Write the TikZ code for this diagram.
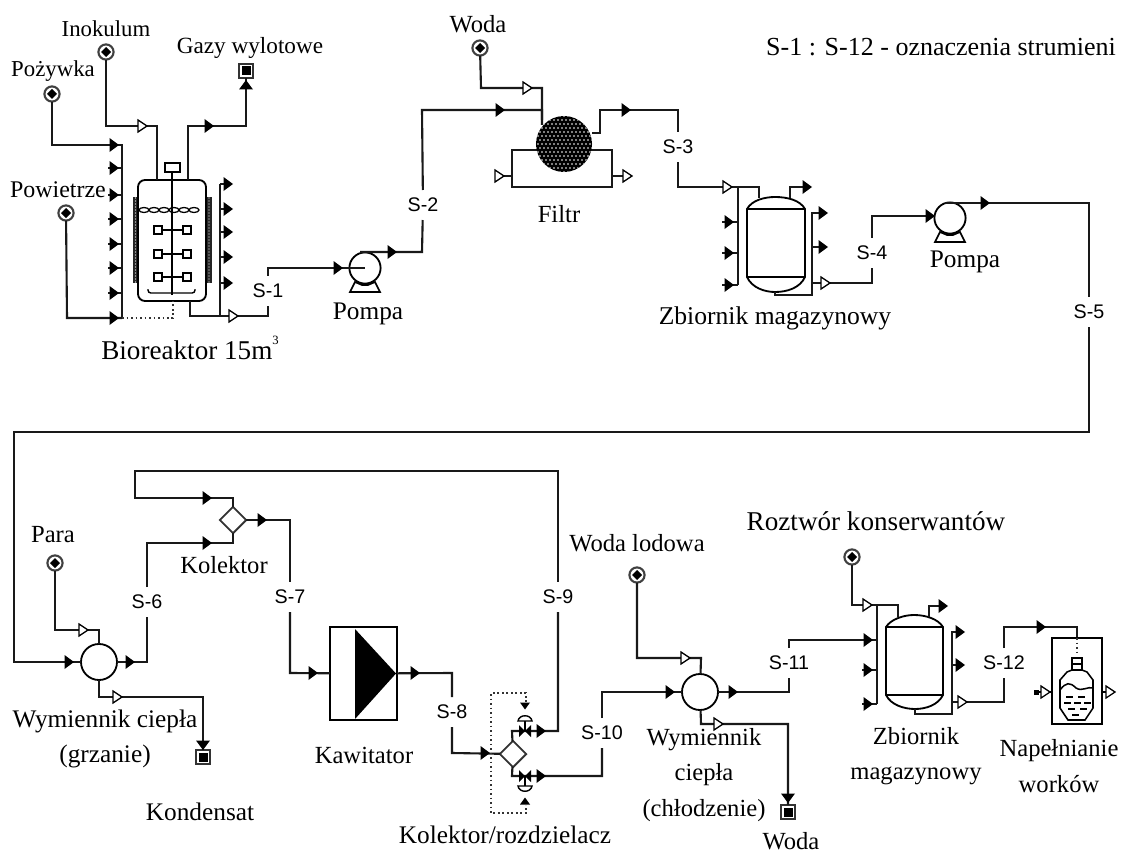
\documentclass[tikz,border=0pt]{standalone}
\usepackage{fontspec}
\setmainfont{Liberation Serif}
\setsansfont{Liberation Sans}
\usetikzlibrary{shapes.geometric}
\tikzset{
 every node/.style={outer sep=0pt,inner sep=0pt},
 pipe/.style={line width=1.5pt,line join=miter,black!90},
 dot/.style={line width=1.2pt,dotted,black!80},
 txt/.style={font=\fontsize{#1}{20}\selectfont,align=center},
 txt/.default=18,
 sl/.style={font=\sffamily\fontsize{14}{16}\selectfont,minimum height=0.75cm,minimum width=0.9cm},
 src/.style={circle,draw=black!75,line width=1.5pt,fill=white,minimum size=0.38cm,path picture={\fill[black] (path picture bounding box.center) ++(0,5)--++(5,-5)--++(-5,-5)--++(-5,5)--cycle;}},
 snk/.style={rectangle,draw=black!80,line width=1.5pt,fill=white,minimum size=0.36cm,path picture={\fill[black] (path picture bounding box.center) ++(-4.5,-4.5) rectangle ++(9,9);}},
 hx/.style={circle,draw,line width=1.3pt,fill=white,minimum size=0.9cm},
 mix/.style={diamond,draw=black!80,line width=1.3pt,fill=white,minimum size=0.66cm,aspect=1},
 pumpb/.style={circle,draw,line width=1.3pt,fill=white,minimum size=0.78cm},
 farr/.pic={\fill[black] (-4.5,-7)--(5,0)--(-4.5,7)--cycle;},
 sarr/.pic={\fill[black] (-3.5,-5)--(3.5,0)--(-3.5,5)--cycle;},
 oarr/.pic={\draw[line width=.9pt,fill=white] (-4,-6)--(5,0)--(-4,6)--cycle;},
}
\newcommand{\FA}[3][0]{\pic[rotate=#1] at (#2,#3) {farr};}
\newcommand{\OA}[3][0]{\pic[rotate=#1] at (#2,#3) {oarr};}
\begin{document}
\begin{tikzpicture}[x=0.025cm,y=-0.025cm]
\useasboundingbox (0,0) rectangle (1126,854);
% ---- text
\node[txt=16.2] (tInok) at (106,29) {Inokulum};
\node[txt=16.2] (tPoz) at (53,71) {Pożywka};
\node[txt=16.5] (tGaz) at (250,48) {Gazy wylotowe};
\node[txt=17] (tPow) at (58,190) {Powietrze};
\node[txt=19.3] (tBio) at (190,348) {Bioreaktor 15m\raisebox{1.2ex}{\fontsize{9}{9}\selectfont 3}};
\node[txt=18] (tPo1) at (368,314) {Pompa};
\node[txt=17.5] (tWod) at (478,24) {Woda};
\node[txt=17.5] (tFil) at (559,214) {Filtr};
\node[txt=18.5] (tLeg) at (941,47) {S-1 : S-12 - oznaczenia strumieni};
\node[txt=18.2] (tZb1) at (775,318) {Zbiornik magazynowy};
\node[txt=18] (tPo2) at (965,262) {Pompa};
\node[txt=17.5] (tPar) at (53,535) {Para};
\node[txt=17.5] (tKol) at (224,565) {Kolektor};
\node[txt=18] (tWy1) at (105,739) {Wymiennik ciepła\\[5pt](grzanie)};
\node[txt=18] (tKon) at (200,812) {Kondensat};
\node[txt=17.5] (tKaw) at (364,755) {Kawitator};
\node[txt=18] (tKr) at (505,835) {Kolektor/rozdzielacz};
\node[txt=17.5] (tWl) at (637,543) {Woda lodowa};
\node[txt=19.3] (tRo) at (876,521) {Roztwór konserwantów};
\node[txt=17.5] (tWy2) at (704,775) {Wymiennik\\[5pt]ciepła\\[5pt](chłodzenie)};
\node[txt=17.5] (tWo2) at (791,841) {Woda};
\node[txt=17.5] (tZb2) at (916,756) {Zbiornik\\[5pt]magazynowy};
\node[txt=17.5] (tNap) at (1059,766) {Napełnianie\\[5pt]worków};
% ---- stream labels
\node[sl] (S1) at (268,291) {S-1};
\node[sl] (S2) at (423,205) {S-2};
\node[sl] (S3) at (678,147) {S-3};
\node[sl] (S4) at (872,253) {S-4};
\node[sl] (S5) at (1089,312) {S-5};
\node[sl] (S6) at (147,602) {S-6};
\node[sl] (S7) at (290,597) {S-7};
\node[sl] (S8) at (452,712) {S-8};
\node[sl] (S9) at (558,597) {S-9};
\node[sl] (S10) at (602,733) {S-10};
\node[sl] (S11) at (789,663) {S-11};
\node[sl] (S12) at (1004,663) {S-12};
% ---- sources, sinks
\node[src] (inok) at (106,52) {};
\node[src] (poz) at (52,94) {};
\node[src] (pow) at (66,213) {};
\node[snk] (gaz) at (246,71) {};
\node[src] (wod) at (480,48) {};
\node[src] (par) at (55,563) {};
\node[snk] (kon) at (203,757) {};
\node[src] (wl) at (637,575) {};
\node[src] (rk) at (852,557) {};
\node[snk] (wo2) at (788,812) {};
% ---- equipment nodes
\node[pumpb] (p1) at (365,268) {};
\node[pumpb] (p2) at (950,218) {};
\node[hx] (hx1) at (99,662) {};
\node[hx] (hx2) at (700,692) {};
\node[mix] (k1) at (233,520) {};
\node[mix] (k2) at (513,754) {};
\node[draw,line width=1.3pt,fill=white,minimum width=1.675cm,minimum height=2.325cm] (kaw) at (363.5,673.5) {};
\fill[black] (355,629)--(396,673.5)--(355,719)--cycle;
% ---- coordinates on equipment
\coordinate (bioIn) at (157,180);
\coordinate (bioOut) at (188,180);
\coordinate (bioB) at (190,301);
\coordinate (busL) at (122,318);
\coordinate (busLt) at (122,145);
\coordinate (j1) at (233,316);
\coordinate (busR) at (220,316);
\coordinate (vT1) at (759,198);
\coordinate (vT1b) at (790,198);
\coordinate (vB1) at (775,292);
\coordinate (vT2) at (898,617);
\coordinate (vT2b) at (929,617);
\coordinate (vB2) at (915,709);
\coordinate (box2t) at (1077,638);
% ---- bioreactor
\fill[black!85] (133,197) rectangle (138,283);
\fill[black!85] (206,197) rectangle (212,283);
\foreach \y in {198,201,...,282}{\fill[white] (135.5,\y) circle (.6);\fill[white] (209,\y) circle (.6);}
\draw[line width=1.3pt,rounded corners=5pt] (138,180) rectangle (206,301);
\foreach \x in {144,154,...,200}{\draw[line width=.9pt] (\x,210) ellipse (5 and 2.5);}
\draw[line width=1.1pt] (172,172)--(172,295);
\draw[line width=1.1pt,fill=white] (165,163) rectangle (180,172);
\foreach \y in {230,254,277}{
 \draw[line width=1.1pt] (158,\y)--(187,\y);
 \draw[line width=1.1pt,fill=white] (154,\y-4) rectangle (162,\y+4);
 \draw[line width=1.1pt,fill=white] (183,\y-4) rectangle (191,\y+4);}
\draw[line width=1pt,rounded corners=2pt] (148,289)--(148,293)--(195,293)--(195,289);
% ---- connectors top row
\draw[pipe] (inok)--(106,126)--(157,126)--(bioIn);
\draw[pipe] (bioOut)--(188,126)--(246,126)--(gaz);
\draw[pipe] (poz)--(52,145)--(busLt)--(busL);
\draw[pipe] (pow)--(67,318)--(busL);
\draw[dot] (busL)--(173,318)--(173,301);
\foreach \y in {168,195,219,244,268,293}{\draw[pipe] (108,\y)--(122,\y);}
\foreach \y in {145,168,195,219,244,268,293,318}{\FA{114}{\y}}
\draw[pipe] (bioB)--(190,316)--(j1);
\draw[pipe] (busR)--(220,184);
\foreach \y in {184,209,232,257,283}{\draw[pipe] (220,\y)--(230,\y);\FA{228}{\y}}
\draw[pipe] (j1)--(268,316)--(S1);
\draw[pipe] (S1)--(268,268)--(365,268);
\draw[pipe] (360,252)--(422,252)--(S2);
\draw[pipe] (S2)--(422,110)--(542,110)--(542,125);
\draw[pipe] (wod)--(481,88)--(542,88)--(542,120);
\draw[pipe] (512,150) rectangle (612,187);
\node[circle,minimum size=1.4cm,fill=black] (fil) at (564,144) {};
\begin{scope}
\clip (564,144) circle (28);
\foreach \i in {0,...,14}{\foreach \j in {0,...,14}{
  \pgfmathsetmacro{\xx}{536+\i*4+2*mod(\j,2)}
  \pgfmathsetmacro{\yy}{116+\j*4}
  \fill[white] (\xx,\yy) circle (0.8);}}
\end{scope}
\draw[pipe] (fil.east |- 133,133)--(600,133)--(600,110)--(678,110)--(S3);
\draw[pipe] (S3)--(678,187)--(759,187)--(vT1);
\draw[pipe] (738,187)--(738,285);
\foreach \y in {222,253,285}{\draw[pipe] (722,\y)--(738,\y);\FA{729}{\y}}
\draw[pipe] (499,176)--(512,176);\draw[pipe] (612,176)--(627,176);
\OA{499}{176}\OA{627}{176}
% tank 1
\draw[line width=1.3pt,fill=white] (747,209) .. controls (752,200) and (765,197) .. (775,197) .. controls (787,197) and (800,200) .. (805,209) -- (805,277) .. controls (800,288) and (787,292) .. (775,292) .. controls (765,292) and (752,288) .. (747,277) -- cycle;
\draw[line width=1.3pt] (747,209)--(805,209) (747,277)--(805,277);
\draw[pipe] (vT1b)--(790,187)--(806,187);\FA{807}{187}
\draw[pipe] (vB1)--(775,295)--(812,295)--(812,213)--(822,213);
\draw[pipe] (812,247)--(822,247);\draw[pipe] (812,283)--(872,283)--(S4);
\FA{823}{213}\FA{823}{247}\OA{825}{283}
\draw[pipe] (S4)--(872,216)--(935,216);
\draw[pipe] (945,203)--(1089,203)--(S5);
\draw[pipe] (S5)--(1089,432)--(14,432)--(14,662)--(hx1);
\draw[pipe] (hx1)--(147,662)--(S6);
\draw[pipe] (S6)--(147,543)--(233,543)--(k1);
\draw[pipe] (k1)--(233,498)--(135,498)--(135,471)--(558,471)--(S9);
\draw[pipe] (par)--(55,630)--(99,630)--(hx1);
\draw[pipe] (hx1)--(99,697)--(203,697)--(kon);
\draw[pipe] (k1)--(290,520)--(S7);
\draw[pipe] (S7)--(290,673)--(kaw);
\draw[pipe] (kaw)--(452,673)--(S8);
\draw[pipe] (S8)--(452,753)--(k2);
\draw[pipe] (k2)--(512,731)--(558,731)--(S9);
\draw[pipe] (k2)--(512,776)--(602,776)--(S10);
\draw[pipe] (S10)--(602,692)--(hx2);
\draw[pipe] (wl)--(637,658)--(701,658)--(hx2);
\draw[pipe] (hx2)--(701,724)--(788,724)--(wo2);
\draw[pipe] (hx2)--(789,692)--(S11);
\draw[pipe] (S11)--(789,640)--(877,640);
% tank 2
\draw[line width=1.3pt,fill=white] (886,627) .. controls (891,619) and (904,615) .. (914,615) .. controls (926,615) and (938,619) .. (943,627) -- (943,695) .. controls (938,705) and (926,709) .. (915,709) .. controls (904,709) and (891,705) .. (886,695) -- cycle;
\draw[line width=1.3pt] (886,627)--(943,627) (886,695)--(943,695);
\draw[pipe] (rk)--(852,605)--(898,605)--(vT2);
\draw[pipe] (877,605)--(877,704);
\draw[pipe] (862,670)--(877,670) (862,704)--(877,704);
\FA{868}{640}\FA{868}{670}\FA{868}{704}
\draw[pipe] (vT2b)--(929,606)--(942,606);\FA{943}{606}
\draw[pipe] (vB2)--(915,714)--(952,714)--(952,632)--(960,632);
\draw[pipe] (952,665)--(960,665);\draw[pipe] (952,702)--(1004,702)--(S12);
\FA{960}{632}\FA{960}{665}\OA{962}{702}
\draw[pipe] (S12)--(1004,627)--(1077,627)--(box2t);
% filling box
\draw[line width=1.3pt] (1052,638) rectangle (1102,724);
\draw[dot] (box2t)--(1077,655);
\draw[line width=1.1pt] (1071,658)--(1083,658) (1071,670)--(1083,670) (1072,658)--(1072,670) (1082,658)--(1082,670) (1071,664)--(1083,664);
\draw[line width=1.1pt] (1072,670)--(1067,672)--(1060,680)--(1060,708)--(1068,720)--(1085,720)--(1093,708)--(1093,680)--(1087,672)--(1082,670);
\draw[line width=1.1pt] (1060,690) .. controls (1066,682) and (1070,682) .. (1076,688) .. controls (1082,692) and (1088,686) .. (1093,688);
\foreach \a/\b in {1066/697,1078/697,1064/703,1074/703,1084/703,1068/709,1080/709,1072/715}{\draw[line width=.9pt] (\a,\b)--++(7,0);}
\draw[line width=1.1pt] (1035,692)--(1052,692);\draw[line width=1.1pt] (1102,692)--(1112,692);
\fill (1034,690) rectangle (1039,695);
\OA{1045}{692}\OA{1110}{692}
% ---- valves
\foreach \y/\s in {731/-1,776/1}{
 \fill[black] (519,\y-6)--(531,\y+6)--(531,\y-6)--(519,\y+6)--cycle;
 \draw[line width=1pt,fill=white] (518,\y+\s*10) .. controls (519,\y+\s*17) and (531,\y+\s*17) .. (532,\y+\s*10) -- cycle;
 \draw[line width=1pt] (525,\y)--(525,\y+\s*10);
}
\pic[rotate=-90] at (525,706) {sarr};
\pic[rotate=90] at (525,801) {sarr};
\draw[dot] (526,702)--(526,693)--(491,693)--(491,813)--(526,813)--(526,805);
% ---- pump bases
\draw[line width=1.2pt,fill=white] (355,282)--(350,292)--(380,292)--(375,282)--(368,285)--(362,285)--cycle;
\draw[line width=1.2pt,fill=white] (940,232)--(935,242)--(965,242)--(960,232)--(953,235)--(947,235)--cycle;
% ---- arrows
\FA[90]{246}{85}\FA{209}{126}\OA{142}{126}
\OA{233}{316}\FA{338}{268}\FA{392}{252}\FA{500}{110}\OA{527}{88}\FA{626}{110}
\OA{727}{187}\FA{930}{216}\FA{985}{203}
\FA{69}{662}\FA{130}{662}\FA{207}{543}\FA{207}{498}\FA{262}{520}\OA{83}{630}\OA{117}{697}
\FA[-90]{203}{745}\FA{313}{673}\FA{415}{673}\FA{485}{753}\FA{541}{731}\FA{541}{776}
\FA{670}{692}\FA{733}{692}\OA{685}{658}\OA{718}{724}\FA[-90]{788}{798}
\OA{867}{605}\FA{1041}{627}
\end{tikzpicture}
\end{document}
